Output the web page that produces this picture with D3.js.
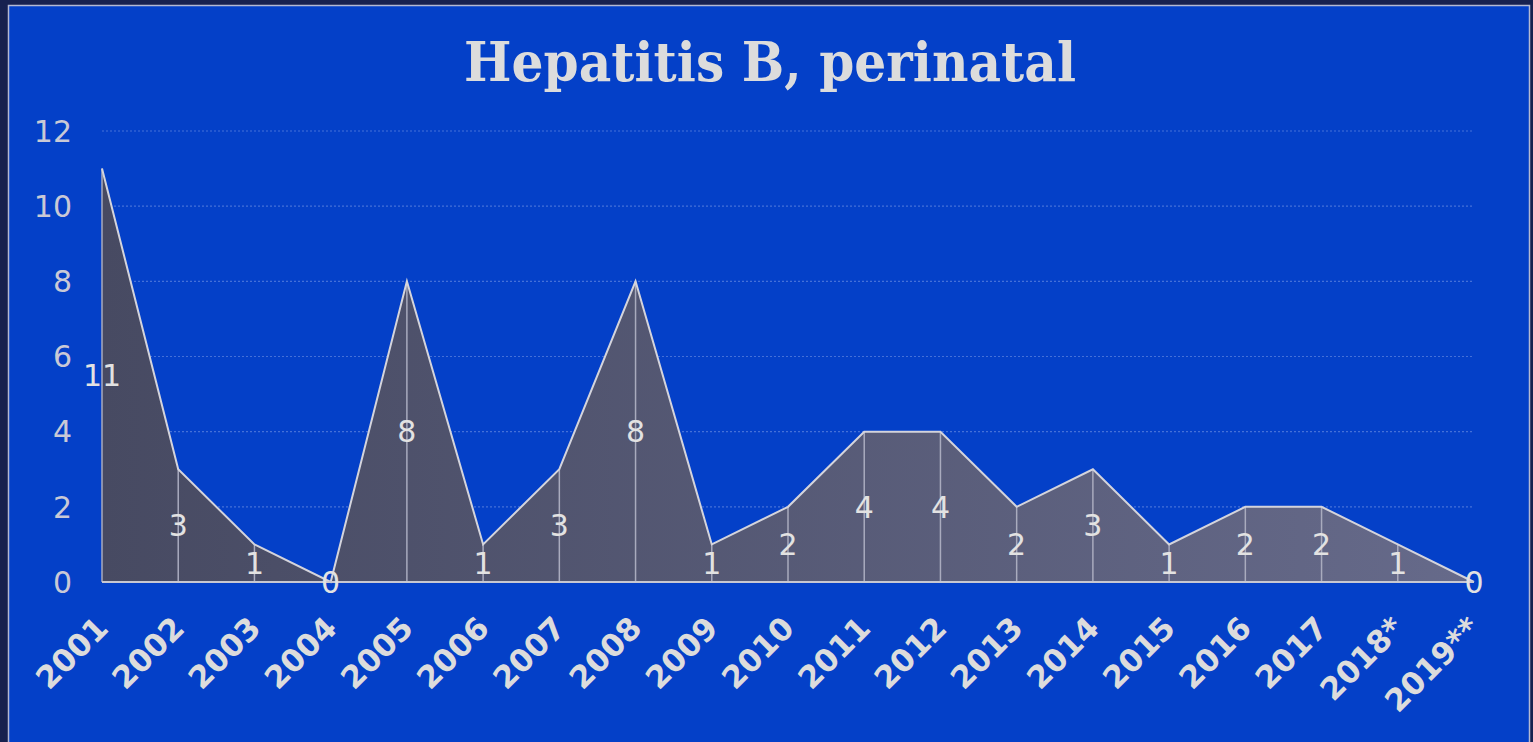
<!DOCTYPE html>
<html lang="en">
<head>
<meta charset="UTF-8">
<title>Hepatitis B, perinatal</title>
<script src="https://d3js.org/d3.v7.min.js"></script>
<style>
    body { margin: 0; background: #17214f; }
    .ytick text { font-family: "DejaVu Sans", sans-serif; font-size: 30px; fill: #c9c9d6; }
    .xtick text { font-family: "DejaVu Sans", sans-serif; font-weight: bold; font-size: 31px; fill: #dcdcdc; }
    .val { font-family: "DejaVu Sans", sans-serif; font-size: 30px; fill: #e2e2e2; }
</style>
</head>
<body>
<script>
    var width = 1533, height = 742;

    var years = ["2001","2002","2003","2004","2005","2006","2007","2008","2009","2010",
                 "2011","2012","2013","2014","2015","2016","2017","2018*","2019**"];
    var cases = [11, 3, 1, 0, 8, 1, 3, 8, 1, 2, 4, 4, 2, 3, 1, 2, 2, 1, 0];
    var yTicks = [0, 2, 4, 6, 8, 10, 12];

    var data = years.map(function(y, i){ return {year: y, value: cases[i]}; });

    var svg = d3.select("body").append("svg")
        .attr("width", width)
        .attr("height", height);

    // frame
    svg.append("rect")
        .attr("x", 8.5).attr("y", 5.5)
        .attr("width", 1521).attr("height", 745)
        .attr("fill", "#0440c8")
        .attr("stroke", "#b4b9d2")
        .attr("stroke-width", 1.5);

    svg.append("text")
        .attr("x", 770).attr("y", 81)
        .attr("text-anchor", "middle")
        .attr("textLength", 612)
        .attr("lengthAdjust", "spacingAndGlyphs")
        .style("font-family", "'DejaVu Serif', serif")
        .style("font-weight", "bold")
        .style("font-size", "54px")
        .style("fill", "#dcdcdc")
        .text("Hepatitis B, perinatal");

    var x = d3.scalePoint().domain(years).range([102, 1474]);
    var y = d3.scaleLinear().domain([0, 12]).range([582, 131]);

    var defs = svg.append("defs");
    var grad = defs.append("linearGradient").attr("id", "fillGrad")
        .attr("x1", "0%").attr("x2", "100%").attr("y1", "0%").attr("y2", "0%");
    grad.append("stop").attr("offset", "0%").attr("stop-color", "#474a62");
    grad.append("stop").attr("offset", "100%").attr("stop-color", "#666a8a");

    // grid
    svg.append("g").selectAll("line")
        .data(yTicks.filter(function(d){ return d > 0; }))
        .enter().append("line")
        .attr("x1", 102).attr("x2", 1474)
        .attr("y1", function(d){ return y(d); })
        .attr("y2", function(d){ return y(d); })
        .attr("stroke", "#4470d8")
        .attr("stroke-width", 1.2)
        .attr("stroke-dasharray", "2,2");

    // y labels
    svg.append("g").attr("class", "ytick").selectAll("text")
        .data(yTicks).enter().append("text")
        .attr("x", 72).attr("y", function(d){ return y(d); })
        .attr("dy", "0.36em")
        .attr("text-anchor", "end")
        .text(function(d){ return d; });

    var area = d3.area()
        .x(function(d){ return x(d.year); })
        .y0(y(0))
        .y1(function(d){ return y(d.value); });

    svg.append("path").datum(data)
        .attr("d", area)
        .attr("fill", "url(#fillGrad)");

    // drop lines
    svg.append("g").selectAll("line")
        .data(data).enter().append("line")
        .attr("x1", function(d){ return x(d.year); })
        .attr("x2", function(d){ return x(d.year); })
        .attr("y1", y(0))
        .attr("y2", function(d){ return y(d.value); })
        .attr("stroke", "#a9abbe")
        .attr("stroke-width", 1.5);

    var line = d3.line()
        .x(function(d){ return x(d.year); })
        .y(function(d){ return y(d.value); });

    svg.append("path").datum(data)
        .attr("d", line)
        .attr("fill", "none")
        .attr("stroke", "#d4d4dc")
        .attr("stroke-width", 2);

    svg.append("line")
        .attr("x1", 102).attr("x2", 1474)
        .attr("y1", y(0)).attr("y2", y(0))
        .attr("stroke", "#c8c8d2")
        .attr("stroke-width", 2);

    // value labels
    svg.append("g").selectAll("text")
        .data(data).enter().append("text")
        .attr("class", "val")
        .attr("x", function(d){ return x(d.year); })
        .attr("y", function(d){ return y(d.value / 2); })
        .attr("dy", "0.36em")
        .attr("text-anchor", "middle")
        .text(function(d){ return d.value; });

    // x labels
    svg.append("g").attr("class", "xtick").selectAll("text")
        .data(years).enter().append("text")
        .attr("text-anchor", "end")
        .attr("transform", function(d){
            return "translate(" + (x(d) + 8) + "," + 630 + ") rotate(-45)";
        })
        .text(function(d){ return d; });
</script>
</body>
</html>
